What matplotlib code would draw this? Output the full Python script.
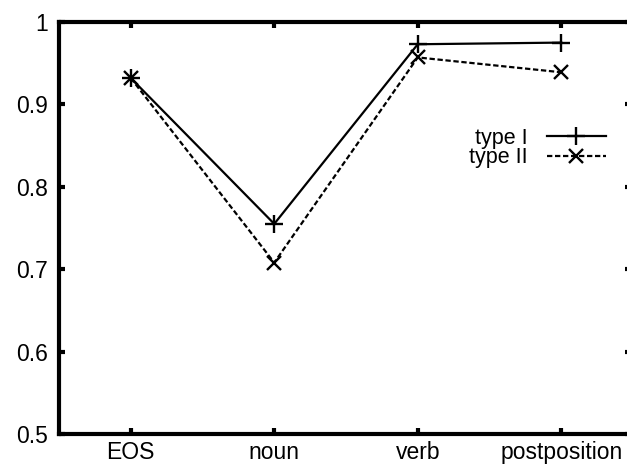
import matplotlib
matplotlib.use("Agg")
from matplotlib import pyplot as plt

# data
categories = ["EOS", "noun", "verb", "postposition"]
type1 = [0.932, 0.755, 0.973, 0.975]
type2 = [0.932, 0.708, 0.957, 0.939]
yticks = [0.5, 0.6, 0.7, 0.8, 0.9, 1.0]
ytick_labels = ["0.5", "0.6", "0.7", "0.8", "0.9", "1"]

plt.rcParams['font.family'] = ['Liberation Sans', 'DejaVu Sans']

fig = plt.figure(figsize=(6.27, 4.68), dpi=100)
ax = fig.add_axes([59/627, 34/468, 574/627, 412/468])

x = list(range(len(categories)))
ax.plot(x, type1, color='black', lw=1.6, marker='+', markersize=13, mew=1.7, label='type I')
ax.plot(x, type2, color='black', lw=1.6, dashes=(2.4, 1.2), marker='x', markersize=10, mew=1.7,
        label='type II')

ax.set_xlim(-0.5, 3.5)
ax.set_ylim(0.5, 1.0)
ax.set_xticks(x)
ax.set_xticklabels(categories)
ax.set_yticks(yticks)
ax.set_yticklabels(ytick_labels)
ax.tick_params(direction='in', length=4, width=3, labelsize=16.5, top=True, right=True, pad=5)
ax.tick_params(axis='y', pad=8)
ax.tick_params(axis='y', which='both', right=True, length=4)
for s in ax.spines.values():
    s.set_linewidth(3)
ax.spines['right'].set_visible(False)
for t in ax.yaxis.get_ticklines()[1::2]:
    t.set_color('#888888')
    t.set_markersize(6)

leg = ax.legend(loc='center right', bbox_to_anchor=(606/627, (468-148)/468),
                bbox_transform=fig.transFigure, frameon=False, markerfirst=False,
                fontsize=15.5, handlelength=2.75, handletextpad=0.9, labelspacing=-0.05,
                borderpad=0, borderaxespad=0)

fig.savefig("out.png", dpi=100)
